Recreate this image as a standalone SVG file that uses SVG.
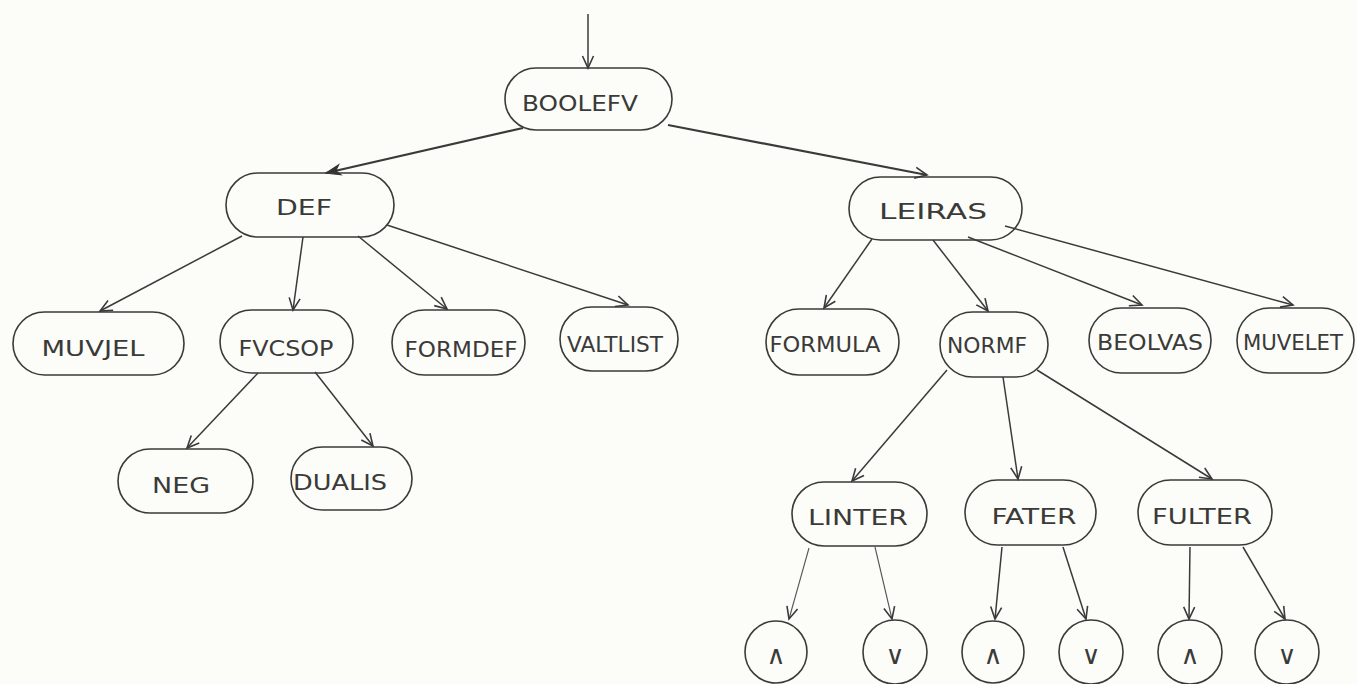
<svg xmlns="http://www.w3.org/2000/svg" width="1357" height="684" viewBox="0 0 1357 684">
  <style>
    .box { fill: none; stroke: #3a3a38; stroke-width: 1.6; }
    .lbl { font-family: "DejaVu Sans", "Liberation Sans", sans-serif; font-size: 22px; fill: #3a3a38; text-anchor: middle; }
    .op { font-family: "DejaVu Sans", sans-serif; font-size: 26px; fill: #3a3a38; text-anchor: middle; }
    .edge { fill: none; stroke: #3a3a38; stroke-width: 1.5; marker-end: url(#arrow); }
    .edge.main { stroke-width: 2.2; }
    .edge.thin { stroke-width: 1.1; stroke: #555; }
  </style>
  <defs>
    <marker id="arrow" viewBox="-14 -8 16 16" refX="0" refY="0" markerWidth="16" markerHeight="16" markerUnits="userSpaceOnUse" orient="auto">
      <path d="M-12,-5.5 L0,0 L-12,5.5" fill="none" stroke="#3a3a38" stroke-width="1.6"/>
    </marker>
    <marker id="arrowSolid" viewBox="-16 -8 18 16" refX="0" refY="0" markerWidth="18" markerHeight="16" markerUnits="userSpaceOnUse" orient="auto">
      <path d="M-14,-5 L0,0 L-14,5 L-10,0 Z" fill="#333" stroke="#333" stroke-width="1.2"/>
    </marker>
  </defs>

  <rect width="1357" height="684" fill="#fcfcf9"/>

  <!-- connectors -->
  <g id="connectors">
    <line class="edge" x1="588" y1="14" x2="588" y2="68"/>
    <line class="edge main" x1="523" y1="128" x2="326" y2="173" style="marker-end:url(#arrowSolid)"/>
    <line class="edge main" x1="668" y1="125" x2="927" y2="175"/>

    <line class="edge" x1="242" y1="236" x2="100" y2="311"/>
    <line class="edge" x1="303" y1="237" x2="293" y2="310"/>
    <line class="edge" x1="358" y1="236" x2="447" y2="309"/>
    <line class="edge" x1="387" y1="225" x2="628" y2="305"/>

    <line class="edge" x1="258" y1="373" x2="187" y2="448"/>
    <line class="edge" x1="315" y1="372" x2="373" y2="446"/>

    <line class="edge" x1="872" y1="239" x2="824" y2="308"/>
    <line class="edge" x1="933" y1="240" x2="988" y2="311"/>
    <line class="edge" x1="968" y1="237" x2="1142" y2="305"/>
    <line class="edge" x1="1005" y1="226" x2="1293" y2="305"/>

    <line class="edge" x1="947" y1="370" x2="852" y2="481"/>
    <line class="edge" x1="1003" y1="377" x2="1018" y2="479"/>
    <line class="edge" x1="1037" y1="370" x2="1212" y2="479"/>

    <line class="edge thin" x1="809" y1="548" x2="789" y2="619"/>
    <line class="edge thin" x1="875" y1="547" x2="892" y2="619"/>
    <line class="edge" x1="1002" y1="547" x2="995" y2="619"/>
    <line class="edge" x1="1063" y1="547" x2="1086" y2="619"/>
    <line class="edge" x1="1190" y1="547" x2="1189" y2="619"/>
    <line class="edge" x1="1243" y1="547" x2="1285" y2="619"/>
  </g>

  <!-- nodes -->
  <g id="n-boolefv">
    <rect class="box" x="505" y="68" width="167" height="62" rx="31"/>
    <text class="lbl" x="580" y="111" textLength="116" lengthAdjust="spacingAndGlyphs">BOOLEFV</text>
  </g>
  <g id="n-def">
    <rect class="box" x="226" y="173" width="168" height="64" rx="32"/>
    <text class="lbl" x="304" y="215" font-size="25" textLength="56" lengthAdjust="spacingAndGlyphs">DEF</text>
  </g>
  <g id="n-leiras">
    <rect class="box" x="849" y="177" width="173" height="63" rx="31.5"/>
    <text class="lbl" x="933" y="219" textLength="108" lengthAdjust="spacingAndGlyphs">LEIRAS</text>
  </g>

  <g id="n-muvjel">
    <rect class="box" x="13" y="312" width="171" height="63" rx="31.5"/>
    <text class="lbl" x="93" y="356" textLength="103" lengthAdjust="spacingAndGlyphs">MUVJEL</text>
  </g>
  <g id="n-fvcsop">
    <rect class="box" x="220" y="310" width="133" height="63" rx="31.5"/>
    <text class="lbl" x="286" y="356" textLength="95" lengthAdjust="spacingAndGlyphs">FVCSOP</text>
  </g>
  <g id="n-formdef">
    <rect class="box" x="392" y="310" width="133" height="65" rx="32.5"/>
    <text class="lbl" x="461" y="357" textLength="113" lengthAdjust="spacingAndGlyphs">FORMDEF</text>
  </g>
  <g id="n-valtlist">
    <rect class="box" x="560" y="307" width="118" height="64" rx="32"/>
    <text class="lbl" x="615" y="352" textLength="96" lengthAdjust="spacingAndGlyphs">VALTLIST</text>
  </g>

  <g id="n-formula">
    <rect class="box" x="766" y="309" width="133" height="66" rx="33"/>
    <text class="lbl" x="825" y="352" textLength="111" lengthAdjust="spacingAndGlyphs">FORMULA</text>
  </g>
  <g id="n-normf">
    <rect class="box" x="940" y="312" width="108" height="65" rx="32.5"/>
    <text class="lbl" x="987" y="353" textLength="80" lengthAdjust="spacingAndGlyphs">NORMF</text>
  </g>
  <g id="n-beolvas">
    <rect class="box" x="1089" y="308" width="122" height="65" rx="32.5"/>
    <text class="lbl" x="1150" y="350" textLength="106" lengthAdjust="spacingAndGlyphs">BEOLVAS</text>
  </g>
  <g id="n-muvelet">
    <rect class="box" x="1237" y="308" width="117" height="65" rx="32.5"/>
    <text class="lbl" x="1293" y="350" textLength="100" lengthAdjust="spacingAndGlyphs">MUVELET</text>
  </g>

  <g id="n-neg">
    <rect class="box" x="118" y="449" width="135" height="64" rx="32"/>
    <text class="lbl" x="181" y="493" textLength="58" lengthAdjust="spacingAndGlyphs">NEG</text>
  </g>
  <g id="n-dualis">
    <rect class="box" x="291" y="447" width="121" height="63" rx="31.5"/>
    <text class="lbl" x="340" y="490" textLength="94" lengthAdjust="spacingAndGlyphs">DUALIS</text>
  </g>

  <g id="n-linter">
    <rect class="box" x="792" y="482" width="135" height="64" rx="32"/>
    <text class="lbl" x="858" y="525" textLength="100" lengthAdjust="spacingAndGlyphs">LINTER</text>
  </g>
  <g id="n-fater">
    <rect class="box" x="965" y="480" width="131" height="65" rx="32.5"/>
    <text class="lbl" x="1034" y="524" textLength="85" lengthAdjust="spacingAndGlyphs">FATER</text>
  </g>
  <g id="n-fulter">
    <rect class="box" x="1138" y="480" width="134" height="65" rx="32.5"/>
    <text class="lbl" x="1202" y="524" textLength="100" lengthAdjust="spacingAndGlyphs">FULTER</text>
  </g>

  <g id="n-linter-and">
    <circle class="box" cx="776" cy="652" r="31"/>
    <text class="op" x="776" y="664">∧</text>
  </g>
  <g id="n-linter-or">
    <circle class="box" cx="895" cy="652" r="32"/>
    <text class="op" x="895" y="664">∨</text>
  </g>
  <g id="n-fater-and">
    <circle class="box" cx="993" cy="652" r="31"/>
    <text class="op" x="993" y="664">∧</text>
  </g>
  <g id="n-fater-or">
    <circle class="box" cx="1091" cy="652" r="32"/>
    <text class="op" x="1091" y="664">∨</text>
  </g>
  <g id="n-fulter-and">
    <circle class="box" cx="1190" cy="652" r="32"/>
    <text class="op" x="1190" y="664">∧</text>
  </g>
  <g id="n-fulter-or">
    <circle class="box" cx="1287" cy="652" r="32"/>
    <text class="op" x="1287" y="664">∨</text>
  </g>
</svg>
